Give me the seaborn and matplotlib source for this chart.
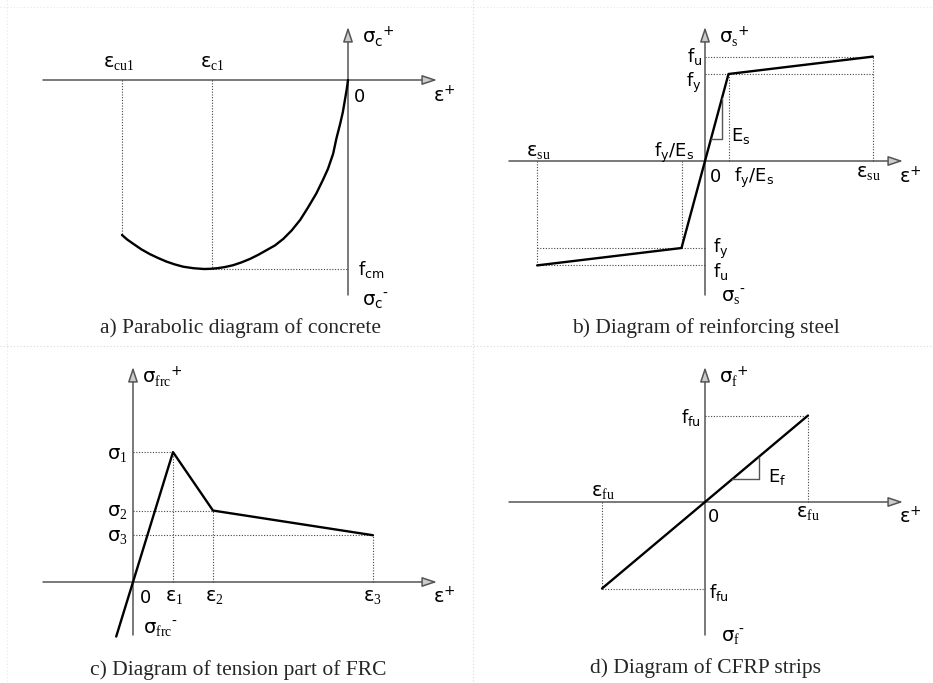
import matplotlib
matplotlib.use('Agg')
import matplotlib.pyplot as plt
import pandas as pd
import seaborn as sns

# DATA
# a) concrete: strain in per mille, stress relative to fcm (read off the curve)
eps_a = [0, -0.02, -0.05, -0.08, -0.12, -0.18, -0.23, -0.31, -0.39, -0.49,
         -0.62, -0.74, -0.87, -1.0, -1.13, -1.26, -1.39, -1.52, -1.65, -1.78,
         -1.91, -2.03, -2.13, -2.23, -2.39, -2.55, -2.68, -2.81, -2.94, -3.07,
         -3.2, -3.32, -3.42, -3.5]
sig_a = [0, -0.05, -0.11, -0.17, -0.23, -0.31, -0.39, -0.47, -0.53, -0.60,
         -0.675, -0.74, -0.795, -0.84, -0.875, -0.90, -0.925, -0.947, -0.965, -0.98,
         -0.99, -0.996, -0.999, -1.0, -0.996, -0.988, -0.976, -0.961, -0.942, -0.921,
         -0.896, -0.868, -0.844, -0.82]
eps_cu1 = -3.5
eps_c1 = -2.1
f_cm = -1.0

# b) reinforcing steel: strain in per mille, stress in MPa
eps_y = 1.4
eps_su = 10.0
f_y = 500
f_u = 600
eps_b = [-eps_su, -eps_y, eps_y, eps_su]
sig_b = [-f_u, -f_y, f_y, f_u]
tri_b_eps = [0.35, 1.02, 1.02]
tri_b_sig = [125, 125, 364]

# c) tension part of FRC
eps_c = [-0.042, 0.1, 0.2, 0.6]
sig_c = [-1.26, 3.0, 1.65, 1.08]

# d) CFRP strips
eps_fu = 1.7
f_fu = 2800
eps_d = [-eps_fu, eps_fu]
sig_d = [-f_fu, f_fu]
tri_d_eps = [0.45, 0.89, 0.89]
tri_d_sig = [741, 741, 1466]

captions = ['a) Parabolic diagram of concrete', 'b) Diagram of reinforcing steel',
            'c) Diagram of tension part of FRC', 'd) Diagram of CFRP strips']

# STYLE
sns.set_style('white')
plt.rcParams['font.family'] = ['DejaVu Sans']
plt.rcParams['mathtext.fontset'] = 'custom'
plt.rcParams['mathtext.rm'] = 'Liberation Serif'
plt.rcParams['mathtext.sf'] = 'DejaVu Sans'

W, H = 933, 683
fig = plt.figure(figsize=(W / 100, H / 100), dpi=100)

# decoration layer in pixel units (axes arrows, labels, separators)
deco = fig.add_axes([0, 0, 1, 1])
deco.set_xlim(0, W)
deco.set_ylim(H, 0)
deco.axis('off')

AX_COL = '#555555'
DOT_COL = '#444444'


def panel(rect, origin, sx, sy):
    x0, y0, x1, y1 = rect
    ox, oy = origin
    ax = fig.add_axes([x0 / W, 1 - y1 / H, (x1 - x0) / W, (y1 - y0) / H])
    ax.set_xlim((x0 - ox) / sx, (x1 - ox) / sx)
    ax.set_ylim((oy - y1) / sy, (oy - y0) / sy)
    ax.axis('off')
    ax.patch.set_alpha(0)
    return ax


def arrow(x0, y0, x1, y1):
    deco.annotate('', xy=(x1, y1), xytext=(x0, y0),
                  arrowprops=dict(arrowstyle='-|>,head_length=0.9,head_width=0.3',
                                  ec=AX_COL, fc='#cccccc', lw=1.1,
                                  shrinkA=0, shrinkB=0, mutation_scale=10))


def axes_cross(ox, oy, hx0, hx1, vy0, vy1):
    arrow(hx0, oy, hx1, oy)
    arrow(ox, vy0, ox, vy1)


def dotted(ax, xs, ys):
    ax.plot(xs, ys, color=DOT_COL, lw=0.8, ls=(0, (1, 1.5)), zorder=1)


def curve(ax, xs, ys, lw=1.7, color='black'):
    df = pd.DataFrame({'x': xs, 'y': ys})
    sns.lineplot(data=df, x='x', y='y', ax=ax, color=color, lw=lw,
                 sort=False, estimator=None, zorder=3)


def lab(x, y, s, ha='left', size=14, va='baseline'):
    deco.text(x, y, s, ha=ha, va=va, fontsize=size, color='black')


def cap(x, y, s):
    deco.text(x, y, s, ha='center', va='baseline', fontsize=15.5,
              family='Liberation Serif')


# separators
deco.plot([0, W], [346, 346], color='#d8d8d8', lw=0.8, ls=(0, (1, 2)))
deco.plot([473, 473], [0, H], color='#d8d8d8', lw=0.8, ls=(0, (1, 2)))
deco.plot([0, W], [7, 7], color='#e6e6e6', lw=0.8, ls=(0, (1, 2)))
deco.plot([7, 7], [0, H], color='#e6e6e6', lw=0.8, ls=(0, (1, 2)))

PLUS = r'{}^{\mathsf{+}}$'
MINUS = r'{}^{\mathsf{‐}}$'

# a) concrete
ax_a = panel((0, 0, 466, 340), (348, 80), 226 / 3.5, 189)
axes_cross(348, 80, 43, 437, 295, 27)
dotted(ax_a, [eps_cu1, eps_cu1], [0, sig_a[-1]])
dotted(ax_a, [eps_c1, eps_c1], [0, f_cm])
dotted(ax_a, [eps_a[23], 0], [f_cm, f_cm])
curve(ax_a, eps_a, sig_a)
lab(103, 68, r'$\mathsf{ε}_{\mathrm{cu1}}$')
lab(200, 68, r'$\mathsf{ε}_{\mathrm{c1}}$')
lab(362, 43, r'$\mathsf{σ_c}' + PLUS)
lab(354, 102, '0', size=13)
lab(433, 102, r'$\mathsf{ε}' + PLUS)
lab(358, 275, r'$\mathsf{f_{cm}}$', size=13)
lab(362, 307, r'$\mathsf{σ_c}' + MINUS)
cap(240, 333, captions[0])

# b) reinforcing steel
ax_b = panel((466, 0, 933, 340), (705, 161), 23.5 / 1.4, 87 / 500)
axes_cross(705, 161, 509, 903, 295, 27)
dotted(ax_b, [0, eps_su], [f_u, f_u])
dotted(ax_b, [0, eps_su], [f_y, f_y])
dotted(ax_b, [eps_su, eps_su], [0, f_u])
dotted(ax_b, [eps_y, eps_y], [0, f_y])
dotted(ax_b, [-eps_y, -eps_y], [0, -f_y])
dotted(ax_b, [-eps_su, 0], [-f_y, -f_y])
dotted(ax_b, [-eps_su, 0], [-f_u, -f_u])
dotted(ax_b, [-eps_su, -eps_su], [0, -f_u])
curve(ax_b, eps_b, sig_b)
curve(ax_b, tri_b_eps, tri_b_sig, lw=1.0, color=AX_COL)
lab(719, 43, r'$\mathsf{σ}_{\mathrm{s}}' + PLUS)
lab(702, 62, r'$\mathsf{f_u}$', ha='right', size=13)
lab(702, 87, r'$\mathsf{f_y}$', ha='right', size=13)
lab(526, 157, r'$\mathsf{ε}_{\mathrm{su}}$')
lab(654, 157, r'$\mathsf{f_y/E_s}$', size=13)
lab(710, 182, '0', size=13)
lab(734, 182, r'$\mathsf{f_y/E_s}$', size=13)
lab(856, 178, r'$\mathsf{ε}_{\mathrm{su}}$')
lab(899, 183, r'$\mathsf{ε}' + PLUS)
lab(713, 253, r'$\mathsf{f_y}$', size=13)
lab(713, 277, r'$\mathsf{f_u}$', size=13)
lab(721, 303, r'$\mathsf{σ}_{\mathrm{s}}' + MINUS)
lab(731, 141, r'$\mathsf{E_s}$', size=13)
cap(706, 333, captions[1])

# c) tension part of FRC
ax_c = panel((0, 340, 466, 683), (133, 582), 400, 43.3)
axes_cross(133, 582, 43, 437, 635, 367)
for e, s in zip(eps_c[1:], sig_c[1:]):
    dotted(ax_c, [0, e], [s, s])
    dotted(ax_c, [e, e], [0, s])
curve(ax_c, eps_c, sig_c)
lab(142, 383, r'$\mathsf{σ}_{\mathrm{frc}}' + PLUS)
lab(128, 460, r'$\mathsf{σ}_{\mathrm{1}}$', ha='right')
lab(128, 517, r'$\mathsf{σ}_{\mathrm{2}}$', ha='right')
lab(128, 542, r'$\mathsf{σ}_{\mathrm{3}}$', ha='right')
lab(140, 603, '0', size=13)
lab(165, 602, r'$\mathsf{ε}_{\mathrm{1}}$')
lab(205, 602, r'$\mathsf{ε}_{\mathrm{2}}$')
lab(363, 602, r'$\mathsf{ε}_{\mathrm{3}}$')
lab(433, 603, r'$\mathsf{ε}' + PLUS)
lab(143, 635, r'$\mathsf{σ}_{\mathrm{frc}}' + MINUS)
cap(238, 675, captions[2])

# d) CFRP strips
ax_d = panel((466, 340, 933, 683), (705, 502), 103 / 1.7, 86.5 / 2800)
axes_cross(705, 502, 509, 903, 635, 367)
dotted(ax_d, [0, eps_fu], [f_fu, f_fu])
dotted(ax_d, [eps_fu, eps_fu], [0, f_fu])
dotted(ax_d, [-eps_fu, -eps_fu], [0, -f_fu])
dotted(ax_d, [-eps_fu, 0], [-f_fu, -f_fu])
curve(ax_d, eps_d, sig_d)
curve(ax_d, tri_d_eps, tri_d_sig, lw=1.0, color=AX_COL)
lab(719, 383, r'$\mathsf{σ}_{\mathrm{f}}' + PLUS)
lab(701, 423, r'$\mathsf{f_{fu}}$', ha='right', size=13)
lab(591, 497, r'$\mathsf{ε}_{\mathrm{fu}}$')
lab(708, 522, '0', size=13)
lab(796, 518, r'$\mathsf{ε}_{\mathrm{fu}}$')
lab(899, 523, r'$\mathsf{ε}' + PLUS)
lab(709, 598, r'$\mathsf{f_{fu}}$', size=13)
lab(721, 643, r'$\mathsf{σ}_{\mathrm{f}}' + MINUS)
lab(768, 482, r'$\mathsf{E_f}$', size=13)
cap(706, 673, captions[3])

fig.savefig('out.png', dpi=100, facecolor='white')
